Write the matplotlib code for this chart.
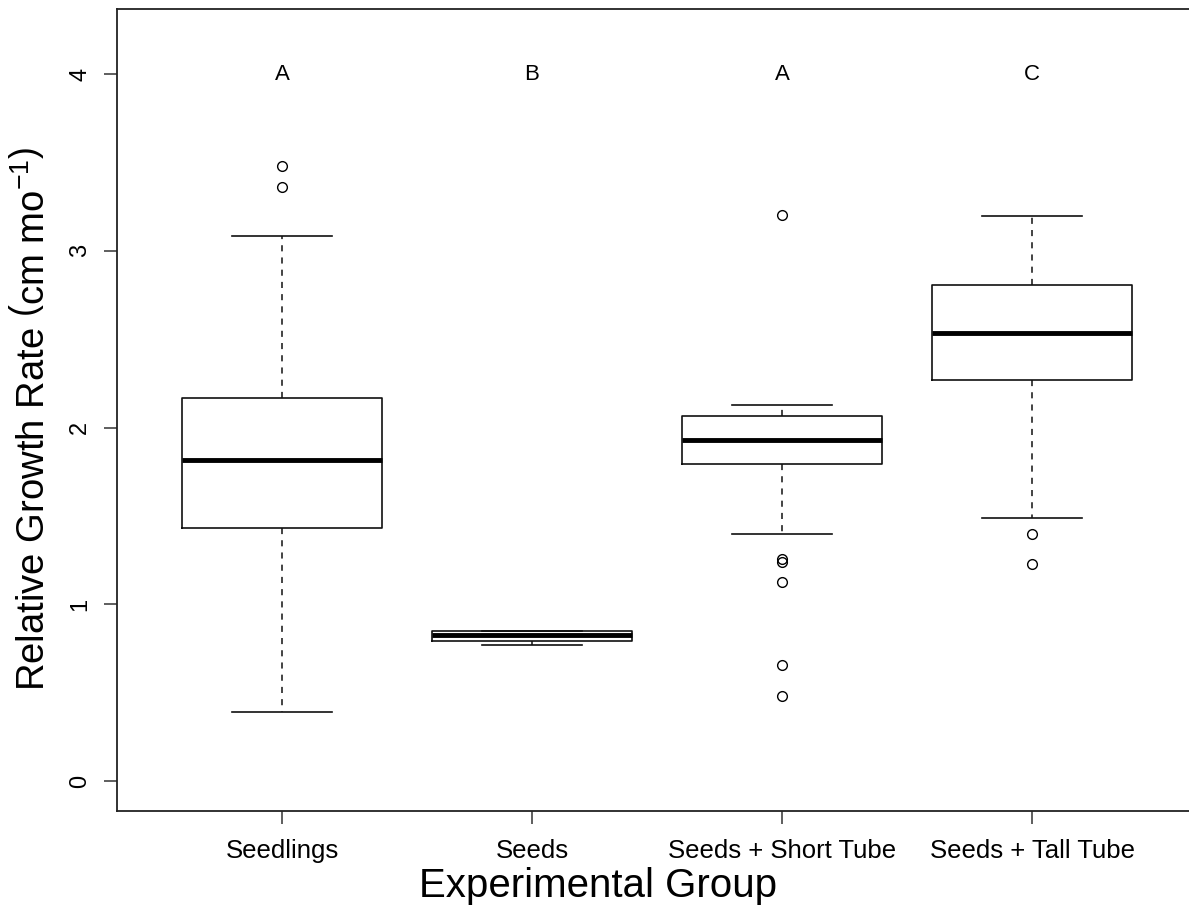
import matplotlib
matplotlib.use("Agg")
import matplotlib.pyplot as plt

plt.rcParams['font.family'] = ['Liberation Sans', 'DejaVu Sans']
plt.rcParams['mathtext.fontset'] = 'custom'
plt.rcParams['mathtext.rm'] = 'Liberation Sans'
plt.rcParams['mathtext.it'] = 'Liberation Sans:italic'
plt.rcParams['mathtext.bf'] = 'Liberation Sans:bold'

# ---- data ----
groups = ["Seedlings", "Seeds", "Seeds + Short Tube", "Seeds + Tall Tube"]
letters = ["A", "B", "A", "C"]
whislo = [0.39, 0.77, 1.40, 1.49]
q1 = [1.43, 0.795, 1.795, 2.27]
med = [1.82, 0.83, 1.93, 2.535]
q3 = [2.17, 0.85, 2.065, 2.805]
whishi = [3.085, 0.85, 2.13, 3.20]
outliers = [
    [3.48, 3.36],
    [],
    [3.205, 1.26, 1.24, 1.13, 0.66, 0.48],
    [1.40, 1.23],
]
letter_y = 4.0

fig = plt.figure(figsize=(11.89, 9.07), dpi=100)
ax = fig.add_axes([117/1189, 96/907, 1080/1189, 802/907])

stats = []
for i, g in enumerate(groups):
    stats.append(dict(label=g, whislo=whislo[i], q1=q1[i], med=med[i],
                      q3=q3[i], whishi=whishi[i], fliers=outliers[i]))

pos = list(range(1, len(groups) + 1))
ax.bxp(stats, positions=pos, widths=0.8, capwidths=0.4, showfliers=True,
       boxprops=dict(color='#111111', linewidth=1.2),
       medianprops=dict(color='black', linewidth=3.5, solid_capstyle='butt'),
       whiskerprops=dict(color='#111111', linewidth=1.1, linestyle=(0, (4, 4))),
       capprops=dict(color='#111111', linewidth=1.2),
       flierprops=dict(marker='o', markerfacecolor='none', markeredgecolor='black',
                       markersize=7, markeredgewidth=1.0, linestyle='none'))

for p, l in zip(pos, letters):
    ax.text(p, letter_y, l, ha='center', va='center', fontsize=16)

ax.set_xlim(0.34, 4.66)
ax.set_ylim(-0.168, 4.368)
ax.set_yticks([0, 1, 2, 3, 4])
ax.set_yticklabels(['0', '1', '2', '3', '4'], rotation=90, va='center', fontsize=17)
ax.set_xticks(pos)
ax.set_xticklabels(groups, fontsize=18.5)
ax.tick_params(axis='both', direction='out', length=9.5, width=1.1, color='#333333')
ax.tick_params(axis='x', pad=11)
ax.tick_params(axis='y', pad=9)
for s in ax.spines.values():
    s.set_linewidth(1.3)
    s.set_color('#222222')

ax.set_xlabel('Experimental Group', fontsize=29)
ax.xaxis.set_label_coords((598 - 117) / 1080, -0.070)
ax.set_ylabel(r'Relative Growth Rate $\left(\mathrm{cm\ mo^{-1}}\right)$', fontsize=27.5)
ax.yaxis.set_label_coords(-0.060, 0.489)

fig.savefig('out.png', dpi=100)
